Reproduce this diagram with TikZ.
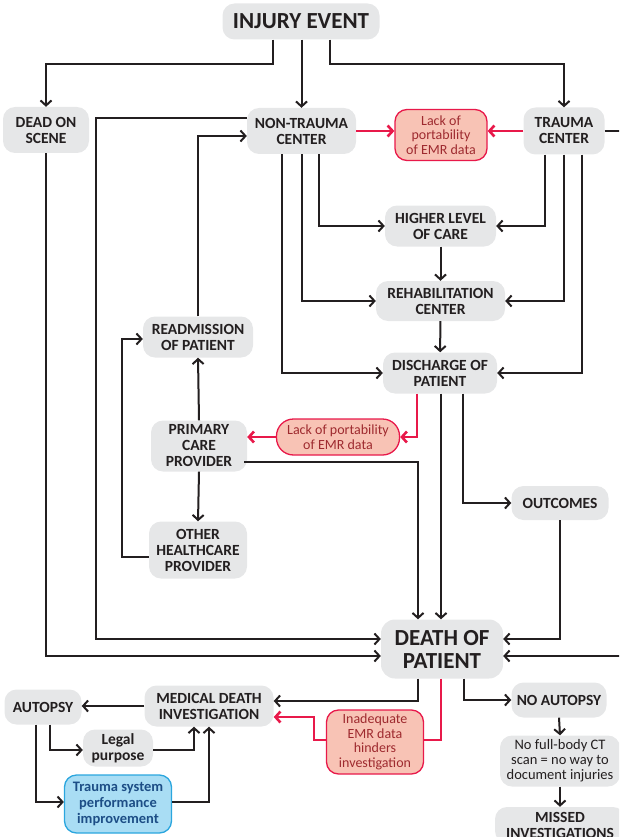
\documentclass[tikz,border=0pt]{standalone}
\usepackage{fontspec}
\setmainfont{Carlito}
\usetikzlibrary{arrows.meta,calc}
\definecolor{boxgray}{HTML}{E6E7E8}
\definecolor{txt}{HTML}{231F20}
\definecolor{redline}{HTML}{E8194A}
\definecolor{redfill}{HTML}{F8C3B5}
\definecolor{redtxt}{HTML}{9E2A2F}
\definecolor{bluefill}{HTML}{A9DDF4}
\definecolor{blueline}{HTML}{2BA6DE}
\definecolor{bluetxt}{HTML}{1D4E86}
\begin{document}
\begin{tikzpicture}[x=1pt,y=-1pt,
 box/.style={fill=boxgray, rounded corners=12pt, align=center, text=txt, inner sep=0pt, font=\bfseries\fontsize{15.5}{16}\selectfont},
 redbox/.style={box, fill=redfill, draw=redline, line width=1.3pt, text=redtxt, font=\fontsize{14}{14.5}\selectfont},
 bluebox/.style={box, fill=bluefill, draw=blueline, line width=1.3pt, text=bluetxt, font=\bfseries\fontsize{14.5}{16}\selectfont},
 arr/.style={draw=txt, line width=2pt, -{Straight Barb[length=5pt,width=11pt]}},
 redarr/.style={draw=redline, line width=2.6pt, -{Straight Barb[length=5pt,width=11pt]}},
]
\useasboundingbox (0,0) rectangle (619,837);
\clip (0,0) rectangle (619,837);

% nodes
\node[box, font=\bfseries\fontsize{23}{23}\selectfont, minimum width=157pt, minimum height=36pt] (inj) at (301,21.5) {INJURY EVENT};
\node[box, minimum width=86pt, minimum height=46pt] (dead) at (46,130) {DEAD ON\\SCENE};
\node[box, minimum width=109pt, minimum height=46pt] (ntc) at (301.5,131) {NON-TRAUMA\\CENTER};
\node[redbox, minimum width=92pt, minimum height=51pt] (lack1) at (441,135) {Lack of\\portability\\of EMR data};
\node[box, minimum width=81pt, minimum height=47pt] (tc) at (564,131) {TRAUMA\\CENTER};
\node[box, minimum width=111pt, minimum height=41pt] (hlc) at (440.5,226) {HIGHER LEVEL\\OF CARE};
\node[box, minimum width=129pt, minimum height=40pt] (rehab) at (440.5,301) {REHABILITATION\\CENTER};
\node[box, minimum width=114pt, minimum height=41pt] (dis) at (440,373) {DISCHARGE OF\\PATIENT};
\node[box, minimum width=110pt, minimum height=41pt] (readm) at (198,337) {READMISSION\\OF PATIENT};
\node[box, minimum width=96pt, minimum height=51pt] (pcp) at (199,446) {PRIMARY\\CARE\\PROVIDER};
\node[redbox, rounded corners=17pt, minimum width=123pt, minimum height=36pt] (lack2) at (338,437) {Lack of portability\\of EMR data};
\node[box, minimum width=97pt, minimum height=34pt] (out) at (560,503) {OUTCOMES};
\node[box, minimum width=98pt, minimum height=57pt] (ohp) at (198,550) {OTHER\\HEALTHCARE\\PROVIDER};
\node[box, font=\bfseries\fontsize{23}{23}\selectfont, rounded corners=14pt, minimum width=122pt, minimum height=59pt] (death) at (442,649) {DEATH OF\\PATIENT};
\node[box, minimum width=129pt, minimum height=41pt] (mdi) at (209,706) {MEDICAL DEATH\\INVESTIGATION};
\node[redbox, minimum width=97pt, minimum height=64pt] (inad) at (375,742) {Inadequate\\EMR data\\hinders\\investigation};
\node[box, minimum width=77pt, minimum height=35pt] (aut) at (43,707) {AUTOPSY};
\node[box, minimum width=70pt, minimum height=37pt] (legal) at (118,748) {Legal\\purpose};
\node[bluebox, minimum width=107pt, minimum height=58pt] (tspi) at (118,804) {Trauma system\\performance\\improvement};
\node[box, minimum width=95pt, minimum height=35pt] (noaut) at (559,700) {NO AUTOPSY};
\node[box, font=\fontsize{14.5}{15}\selectfont, minimum width=120pt, minimum height=51pt] (noct) at (560,761) {No full-body CT\\scan = no way to\\document injuries};
\node[box, minimum width=130pt, minimum height=36pt] (missed) at (560,825) {MISSED\\INVESTIGATIONS};

% connectors from injury event
\draw[arr] ($(inj.south)+(-28,0)$) |- ($(dead.north)+(0,-43)$) -- (dead.north);
\draw[arr] (inj.south -| ntc.north) -- (ntc.north);
\draw[arr] ($(inj.south)+(29,0)$) |- ($(tc.north)+(0,-43)$) -- (tc.north);

% non-trauma center
\draw[arr] ($(ntc.west)+(0,-13)$) -| (96,639) -- ($(death.west)+(0,-10)$);
\draw[arr] (readm.north) |- ($(ntc.west)+(0,5)$);
\draw[arr] ($(ntc.south)+(17.5,0)$) |- (hlc.west);
\draw[arr] (ntc.south) |- (rehab.west);
\draw[arr] ($(ntc.south)+(-19.5,0)$) |- (dis.west);
\draw[redarr] (ntc.east) -- (ntc.east -| lack1.west);

% trauma center
\draw[redarr] (tc.west) -- (tc.west -| lack1.east);
\draw[arr] ($(tc.south)+(-19,0)$) |- (hlc.east);
\draw[arr] (tc.south) |- (rehab.east);
\draw[arr] ($(tc.south)+(18,0)$) |- (dis.east);
\draw[arr] (tc.east) -- (640,131) |- ($(death.east)+(0,7)$);

% care chain
\draw[arr] (hlc) -- (rehab);
\draw[arr] (rehab) -- (dis);
\draw[redarr] ($(dis.south)+(-23,0)$) |- (lack2.east);
\draw[redarr] (lack2.west) -- (lack2.west -| pcp.east);
\draw[arr] (pcp.north) -- (readm.south);
\draw[arr] (pcp.south) -- (ohp.north);
\draw[arr] ($(ohp.west)+(0,7)$) -| (122,339) -- ($(readm.west)+(0,2)$);
\draw[arr] ($(pcp.east)+(-3,16)$) -| ($(death.north)+(-24,0)$);
\draw[arr] ($(dis.south)+(1,0)$) -- ($(death.north)+(-1,0)$);
\draw[arr] ($(dis.south)+(23,0)$) |- (out.west);
\draw[arr] (out.south) |- ($(death.east)+(0,-10)$);
\draw[arr] (dead.south) |- ($(death.west)+(0,7)$);

% after death
\draw[arr] ($(death.south)+(-24,0)$) |- ($(mdi.east)+(0,-5)$);
\draw[draw=redline, line width=2.6pt] ($(death.south)+(-1,0)$) |- ($(inad.east)+(0,-2)$);
\draw[redarr] ($(inad.west)+(0,-2)$) -| (314,717) -- ($(mdi.east)+(0,11)$);
\draw[arr] ($(death.south)+(22,0)$) |- (noaut.west);
\draw[arr] (noaut.south) -- (noct.north);
\draw[arr] (noct.south) -- (missed.north);
\draw[arr] (mdi.west) -- (mdi.west -| aut.east);
\draw[arr] ($(aut.south)+(7,0)$) |- ($(legal.west)+(0,2)$);
\draw[arr] ($(aut.south)+(-7,0)$) |- ($(tspi.west)+(0,-2)$);
\draw[arr] ($(legal.east)+(0,2)$) -| ($(mdi.south)+(-15,0)$);
\draw[arr] ($(tspi.east)+(0,-2)$) -| (mdi.south);
\end{tikzpicture}
\end{document}
